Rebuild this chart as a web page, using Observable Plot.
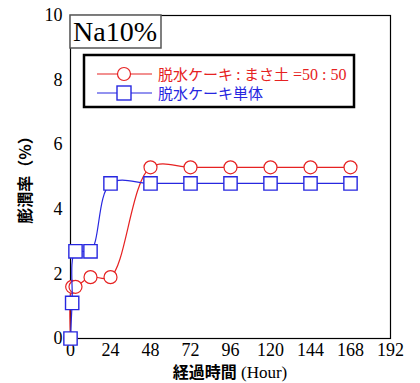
<!DOCTYPE html>
<html><head><meta charset="utf-8">
<script src="https://cdn.jsdelivr.net/npm/d3@7"></script>
<script src="https://cdn.jsdelivr.net/npm/@observablehq/plot@0.6"></script>
<style>body{margin:0;background:#fff}</style>
</head><body><div id="chart"></div>
<script>
const hoursRed = [0, 1, 3, 12, 24, 48, 72, 96, 120, 144, 168];
const valuesRed = [0, 1.6, 1.6, 1.9, 1.9, 5.3, 5.3, 5.3, 5.3, 5.3, 5.3];
const hoursBlue = [0, 1, 3, 12, 24, 48, 72, 96, 120, 144, 168];
const valuesBlue = [0, 1.1, 2.7, 2.7, 4.8, 4.8, 4.8, 4.8, 4.8, 4.8, 4.8];
const xTicks = [0, 24, 48, 72, 96, 120, 144, 168, 192];
const yTicks = [0, 2, 4, 6, 8, 10];
const seriesJa = ["脱水ケーキ : まさ土", "脱水ケーキ単体"];
const seriesRatio = " =50 : 50";
const titleText = "Na10%";
const xLabelJa = "経過時間";
const xLabelEn = " (Hour)";
const yLabel = "膨潤率（%）";

const RED = "#e62222", BLUE = "#2727e0";
const SERIF = "'Liberation Serif', 'Times New Roman', serif";
const JA = "'Noto Sans CJK JP', sans-serif";
const red = hoursRed.map((h, i) => ({h, v: valuesRed[i]}));
const blue = hoursBlue.map((h, i) => ({h, v: valuesBlue[i]}));

const plot = Plot.plot({
  width: 420, height: 383,
  marginLeft: 70, marginRight: 30, marginTop: 15, marginBottom: 45,
  style: {fontFamily: SERIF, fontSize: "18px", background: "#fff", color: "#000"},
  x: {domain: [0, 192]},
  y: {domain: [0, 10]},
  marks: [
    Plot.frame({stroke: "#000", strokeWidth: 1.2}),
    Plot.axisX({ticks: xTicks, tickSize: 0, tickPadding: 5, label: null, fill: "#000"}),
    Plot.axisY({ticks: yTicks, tickSize: 0, tickPadding: 8, label: null, fill: "#000"}),
    Plot.line(red, {x: "h", y: "v", curve: "catmull-rom", stroke: RED, strokeWidth: 1.2}),
    Plot.dot(red, {x: "h", y: "v", symbol: "circle", r: 6.5, stroke: RED, fill: "#fff", strokeWidth: 1.2}),
    Plot.line(blue, {x: "h", y: "v", curve: "catmull-rom", stroke: BLUE, strokeWidth: 1.2}),
    Plot.dot(blue, {x: "h", y: "v", symbol: "square", r: 7.5, stroke: BLUE, fill: "#fff", strokeWidth: 1.4})
  ]
});
document.getElementById("chart").appendChild(plot);

const svg = d3.select(plot);
const sx = plot.scale("x"), sy = plot.scale("y");
const pLeft = sx.apply(0), pTop = sy.apply(10);

// title box
const tg = svg.append("g").attr("text-anchor", "start");
tg.append("rect").attr("x", pLeft).attr("y", pTop).attr("width", 91).attr("height", 33)
  .attr("fill", "#fff").attr("stroke", "#555").attr("stroke-width", 1.5);
tg.append("text").attr("x", pLeft + 3).attr("y", pTop + 26)
  .style("font-family", SERIF).style("font-size", "28px").attr("fill", "#000").text(titleText);

// legend
const lg = svg.append("g").attr("text-anchor", "start");
lg.append("rect").attr("x", pLeft + 14).attr("y", pTop + 40).attr("width", 270).attr("height", 52)
  .attr("fill", "#fff").attr("stroke", "#000").attr("stroke-width", 2.5);
const rows = [
  {y: pTop + 59, color: RED, sym: "circle", ja: seriesJa[0], ratio: seriesRatio},
  {y: pTop + 78, color: BLUE, sym: "square", ja: seriesJa[1], ratio: ""}
];
rows.forEach(r => {
  lg.append("line").attr("x1", pLeft + 27).attr("x2", pLeft + 82).attr("y1", r.y).attr("y2", r.y)
    .attr("stroke", r.color).attr("stroke-width", 1.2);
  if (r.sym === "circle") {
    lg.append("circle").attr("cx", pLeft + 54).attr("cy", r.y).attr("r", 6.5)
      .attr("fill", "#fff").attr("stroke", r.color).attr("stroke-width", 1.2);
  } else {
    lg.append("rect").attr("x", pLeft + 47).attr("y", r.y - 7).attr("width", 14).attr("height", 14)
      .attr("fill", "#fff").attr("stroke", r.color).attr("stroke-width", 1.4);
  }
  const t = lg.append("text").attr("x", pLeft + 88).attr("y", r.y + 5.5).attr("fill", r.color);
  t.append("tspan").style("font-family", JA).style("font-size", "15px").text(r.ja);
  if (r.ratio) t.append("tspan").style("font-family", SERIF).style("font-size", "16px").text(r.ratio);
});

// axis labels
const xl = svg.append("text").attr("x", 230).attr("y", 378).attr("text-anchor", "middle").attr("fill", "#000");
xl.append("tspan").style("font-family", JA).style("font-weight", "bold").style("font-size", "16px").text(xLabelJa);
xl.append("tspan").style("font-family", SERIF).style("font-size", "17px").text(xLabelEn);

svg.append("text").attr("transform", "translate(31,176) rotate(-90)").attr("text-anchor", "middle")
  .style("font-family", JA).style("font-weight", "bold").style("font-size", "16px").attr("fill", "#000").text(yLabel);
</script>
</body></html>
